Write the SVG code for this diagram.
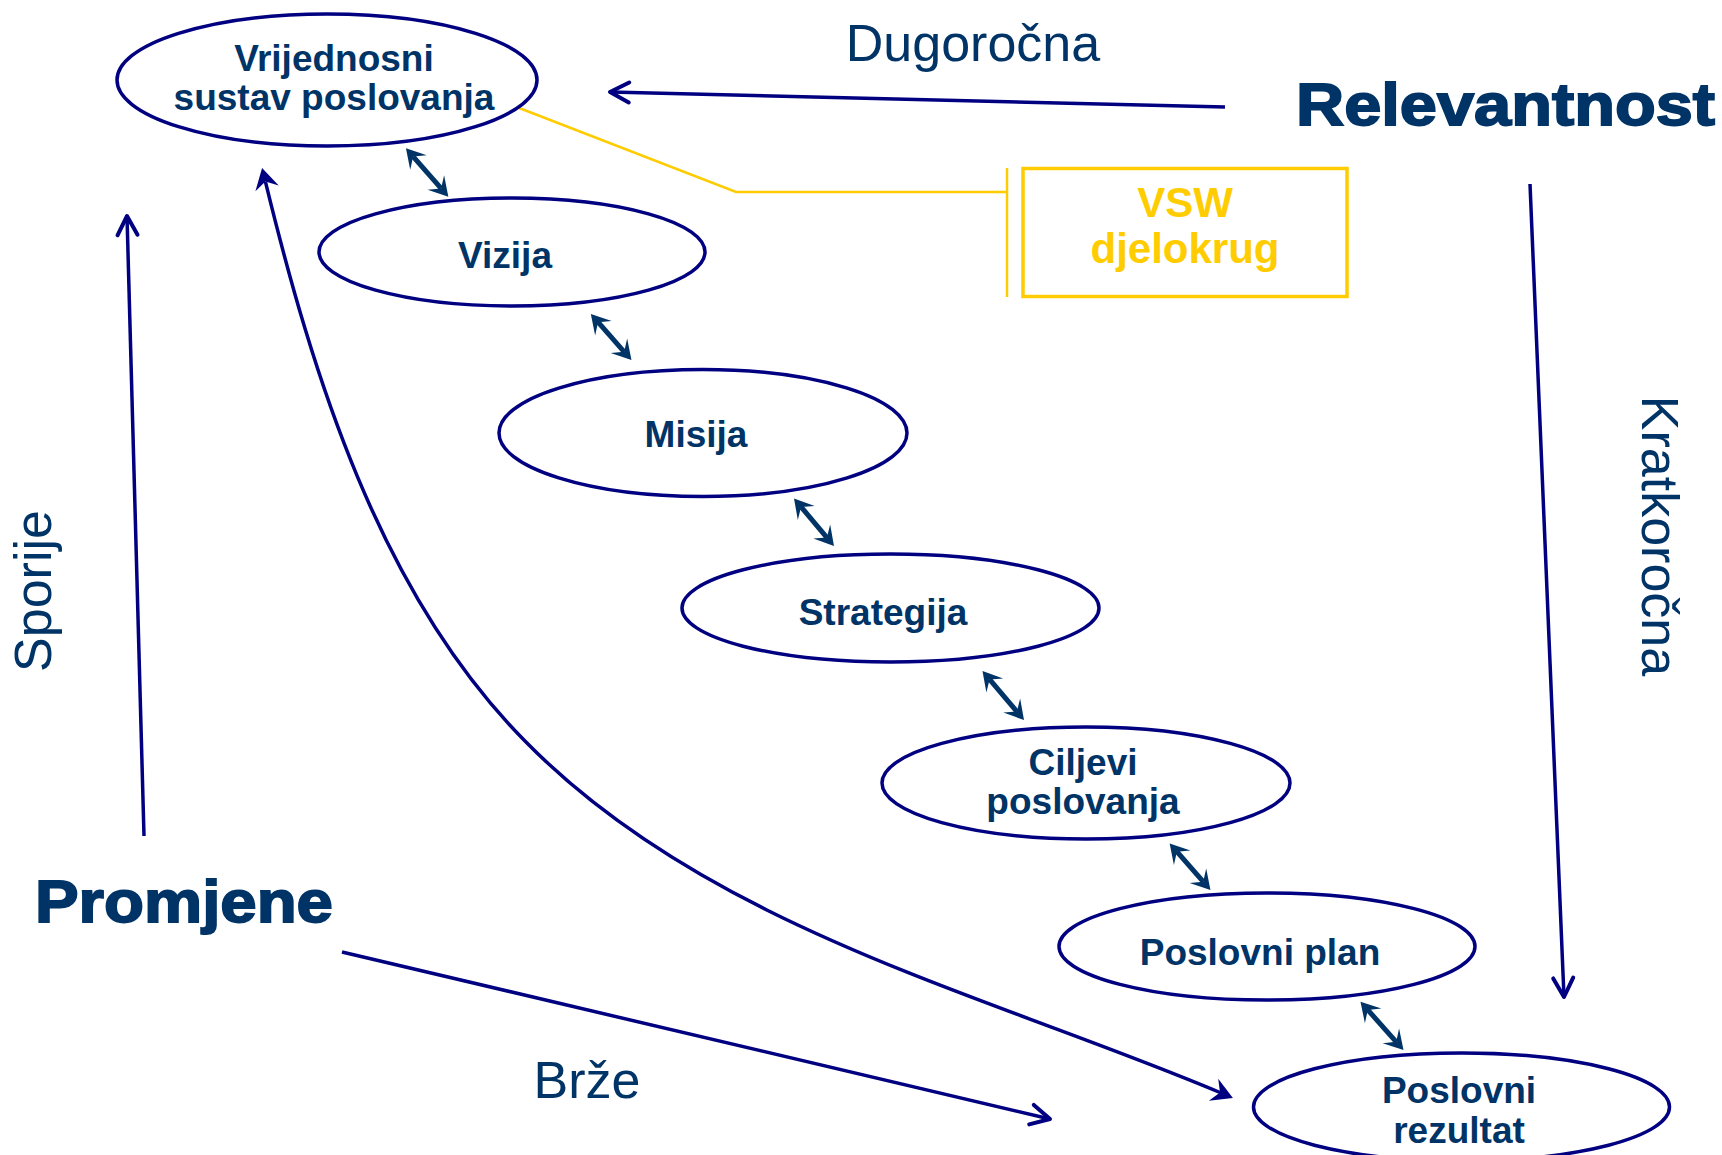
<svg xmlns="http://www.w3.org/2000/svg" width="1722" height="1155" viewBox="0 0 1722 1155">
<style>
.ell{fill:#ffffff;stroke:#000080;stroke-width:3.5}
.node{font-family:"Liberation Sans",Arial,sans-serif;font-weight:bold;font-size:37px;fill:#003366;text-anchor:middle}
.lbl{font-family:"Liberation Sans",Arial,sans-serif;font-size:52px;fill:#003366;text-anchor:middle}
.big{font-family:"Liberation Sans",Arial,sans-serif;font-weight:bold;font-size:60px;fill:#003366;stroke:#003366;stroke-width:1.8}
.vsw{font-family:"Liberation Sans",Arial,sans-serif;font-weight:bold;font-size:42px;fill:#FFCC00;text-anchor:middle}
.big-arrow{fill:none;stroke:#000080;stroke-width:3.5}
.dbl{fill:none;stroke:#003366;stroke-width:5}
.yel{fill:none;stroke:#FFCC00;stroke-width:2.5}
</style>
<defs>
<marker id="vhead" markerUnits="userSpaceOnUse" viewBox="-24 -14 28 28" markerWidth="28" markerHeight="28" refX="0" refY="0" orient="auto">
<path d="M-19,-10 L0,0 L-19,10" fill="none" stroke="#000080" stroke-width="4" stroke-linecap="round" stroke-linejoin="round"/>
</marker>
<marker id="stealth" markerUnits="userSpaceOnUse" viewBox="-24 -14 28 28" markerWidth="28" markerHeight="28" refX="-14" refY="0" orient="auto-start-reverse">
<path d="M0,0 L-21,-12 L-14,0 L-21,12 Z" fill="#000080"/>
</marker>
<marker id="dhead" markerUnits="userSpaceOnUse" viewBox="-22 -13 26 26" markerWidth="26" markerHeight="26" refX="-11" refY="0" orient="auto-start-reverse">
<path d="M0,0 L-19,-11 L-11,0 L-19,11 Z" fill="#003366"/>
</marker>
</defs>
<rect width="1722" height="1155" fill="#ffffff"/>

<g id="connectors">
<path class="yel" d="M514,106 L736,192 L1006,192"/>
<line class="yel" x1="1007" y1="168" x2="1007" y2="297" stroke-width="3"/>
<line class="big-arrow" x1="1225" y1="107" x2="610" y2="92" marker-end="url(#vhead)"/>
<line class="big-arrow" x1="1530" y1="184" x2="1564" y2="997" marker-end="url(#vhead)"/>
<line class="big-arrow" x1="144" y1="836" x2="127" y2="216" marker-end="url(#vhead)"/>
<line class="big-arrow" x1="342" y1="952" x2="1050" y2="1119" marker-end="url(#vhead)"/>
<path class="big-arrow" d="M265.4,181.6 C312,372 378,592 524,740 C707,928 989,995 1220,1092.5" marker-start="url(#stealth)" marker-end="url(#stealth)"/>
<line class="dbl" x1="413.2" y1="156.6" x2="441.1" y2="188.4" marker-start="url(#dhead)" marker-end="url(#dhead)"/>
<line class="dbl" x1="598.1" y1="322.2" x2="624.2" y2="351.8" marker-start="url(#dhead)" marker-end="url(#dhead)"/>
<line class="dbl" x1="801.1" y1="506.9" x2="826.9" y2="537.6" marker-start="url(#dhead)" marker-end="url(#dhead)"/>
<line class="dbl" x1="989.6" y1="679.4" x2="1016.9" y2="711.6" marker-start="url(#dhead)" marker-end="url(#dhead)"/>
<line class="dbl" x1="1176.9" y1="851.7" x2="1203.2" y2="881.7" marker-start="url(#dhead)" marker-end="url(#dhead)"/>
<line class="dbl" x1="1367.8" y1="1009.9" x2="1396.2" y2="1041.8" marker-start="url(#dhead)" marker-end="url(#dhead)"/>
</g>

<g id="node-vrijednosni">
<ellipse class="ell" cx="327" cy="80" rx="210" ry="66"/>
<text class="node" x="334" y="71">Vrijednosni</text>
<text class="node" x="334" y="110">sustav poslovanja</text>
</g>
<g id="node-vizija">
<ellipse class="ell" cx="512" cy="252" rx="193" ry="54"/>
<text class="node" x="505" y="268">Vizija</text>
</g>
<g id="node-misija">
<ellipse class="ell" cx="703" cy="433" rx="204" ry="63.5"/>
<text class="node" x="696" y="447">Misija</text>
</g>
<g id="node-strategija">
<ellipse class="ell" cx="890.5" cy="608" rx="208.5" ry="54"/>
<text class="node" x="883" y="625">Strategija</text>
</g>
<g id="node-ciljevi">
<ellipse class="ell" cx="1086" cy="783" rx="204" ry="56"/>
<text class="node" x="1083" y="775">Ciljevi</text>
<text class="node" x="1083" y="814">poslovanja</text>
</g>
<g id="node-plan">
<ellipse class="ell" cx="1267" cy="946.5" rx="208" ry="53.5"/>
<text class="node" x="1260" y="965">Poslovni plan</text>
</g>
<g id="node-rezultat">
<ellipse class="ell" cx="1461.5" cy="1107" rx="208" ry="54"/>
<text class="node" x="1459" y="1103">Poslovni</text>
<text class="node" x="1459" y="1143">rezultat</text>
</g>
<g id="node-vsw">
<rect x="1023" y="168.5" width="324" height="128" fill="none" stroke="#FFCC00" stroke-width="3.5"/>
<text class="vsw" x="1185" y="217">VSW</text>
<text class="vsw" x="1185" y="263">djelokrug</text>
</g>

<g id="labels">
<text class="big" x="1296" y="125" textLength="419" lengthAdjust="spacingAndGlyphs">Relevantnost</text>
<text class="big" x="35" y="922" textLength="298" lengthAdjust="spacingAndGlyphs">Promjene</text>
<text class="lbl" x="973" y="61">Dugoročna</text>
<text class="lbl" x="587" y="1098">Brže</text>
<text class="lbl" transform="translate(51,591) rotate(-90)">Sporije</text>
<text class="lbl" transform="translate(1642,536) rotate(90)">Kratkoročna</text>
</g>
</svg>
